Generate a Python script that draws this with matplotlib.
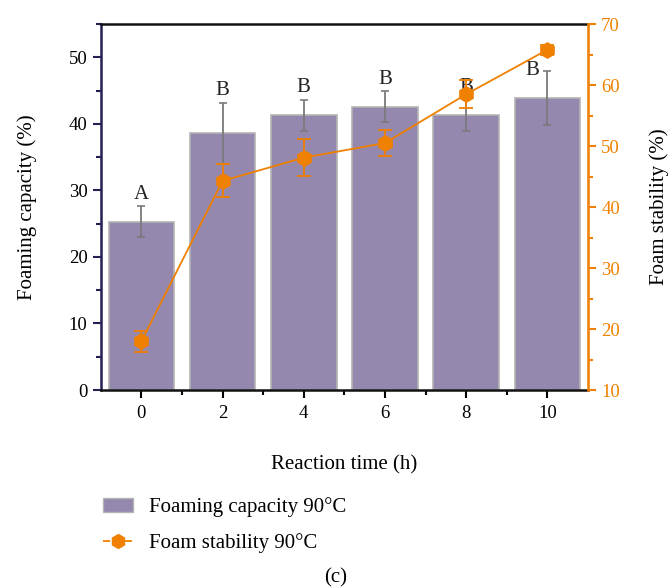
import matplotlib
matplotlib.use("Agg")
import matplotlib.pyplot as plt
from matplotlib.patches import Patch
from matplotlib.lines import Line2D
from matplotlib.ticker import MultipleLocator
import numpy as np

times = ["0", "2", "4", "6", "8", "10"]
foam_capacity = [25.3, 38.6, 41.3, 42.6, 41.3, 43.9]
foam_capacity_err = [2.3, 4.6, 2.3, 2.3, 2.3, 4.0]
foam_stability = [18.0, 44.3, 48.1, 50.5, 58.5, 65.8]
foam_stability_err = [1.75, 2.7, 3.0, 2.1, 2.3, 0.8]
letters = ["A", "B", "B", "B", "B", "B"]

plt.rcParams['font.family'] = ['Liberation Serif', 'DejaVu Serif']
FS = 13.5
LFS = 15
orange = '#f08000'
bar_col = '#9488ae'
navy = '#232052'

fig = plt.figure(figsize=(6.72, 5.88), dpi=100)
ax = fig.add_axes([0.150, 0.3367, 0.725, 0.6223])
x = np.arange(len(times))

ax.bar(x, foam_capacity, width=0.81, color=bar_col, edgecolor='#b4b4b4', linewidth=1.2, zorder=2)
ax.errorbar(x, foam_capacity, yerr=foam_capacity_err, fmt='none', ecolor='#7a7a7a',
            elinewidth=1.3, capsize=3, capthick=1.2, zorder=3)
for i, (xi, v, e, t) in enumerate(zip(x, foam_capacity, foam_capacity_err, letters)):
    if i == len(x) - 1:
        ax.text(xi - 0.19, v + e + 0.2, t, ha='center', va='center', fontsize=LFS, color='#222222', zorder=4)
    else:
        ax.text(xi, v + e + 0.4, t, ha='center', va='bottom', fontsize=LFS, color='#222222', zorder=4)

ax.set_xlim(-0.5, 5.5)
ax.set_ylim(0, 55)
ax.set_xticks(x)
ax.set_xticklabels(times, fontsize=FS)
ax.set_xticks(x[:-1] + 0.5, minor=True)
ax.yaxis.set_major_locator(MultipleLocator(10))
ax.yaxis.set_minor_locator(MultipleLocator(5))
ax.tick_params(axis='y', which='major', length=6, width=1.5, color=navy, labelsize=FS)
ax.tick_params(axis='y', which='minor', length=3.5, width=1.5, color=navy)
ax.tick_params(axis='x', which='major', length=6, width=1.5, labelsize=FS, pad=5)
ax.tick_params(axis='x', which='minor', length=3.5, width=1.5)
ax.spines['left'].set_color(navy)
ax.spines['left'].set_linewidth(1.8)
for s in ['top', 'bottom']:
    ax.spines[s].set_linewidth(1.8)
    ax.spines[s].set_color('#111111')
ax.set_ylabel('Foaming capacity (%)', fontsize=LFS, labelpad=23)
ax.set_xlabel('Reaction time (h)', fontsize=LFS, labelpad=24)

ax2 = ax.twinx()
ax2.errorbar(x, foam_stability, yerr=foam_stability_err, color=orange, marker='h',
             markersize=11, linewidth=1.3, elinewidth=1.3, capsize=5, capthick=1.3, zorder=5)
ax2.set_ylim(10, 70)
ax2.yaxis.set_major_locator(MultipleLocator(10))
ax2.yaxis.set_minor_locator(MultipleLocator(5))
ax2.tick_params(axis='y', which='major', length=6, width=1.5, color=orange, labelcolor=orange, labelsize=FS)
ax2.tick_params(axis='y', which='minor', length=3.5, width=1.5, color=orange)
ax2.spines['right'].set_color(orange)
ax2.spines['right'].set_linewidth(1.8)
ax2.spines['left'].set_visible(False)
ax2.spines['top'].set_visible(False)
ax2.spines['bottom'].set_visible(False)
ax2.set_ylabel('Foam stability (%)', fontsize=LFS, labelpad=21)

handles = [Patch(facecolor=bar_col, edgecolor='#b4b4b4'),
           Line2D([0], [0], color=orange, linestyle=(0, (4, 2)), marker='h', markersize=10, linewidth=1.3)]
fig.legend(handles, ['Foaming capacity 90°C', 'Foam stability 90°C'], loc='upper left',
           bbox_to_anchor=(0.125, 0.186), frameon=False, fontsize=LFS, handlelength=1.45,
           handletextpad=0.75, labelspacing=0.75)
fig.text(0.5, 0.017, '(c)', ha='center', va='center', fontsize=LFS)

fig.savefig('out.png', dpi=100)
